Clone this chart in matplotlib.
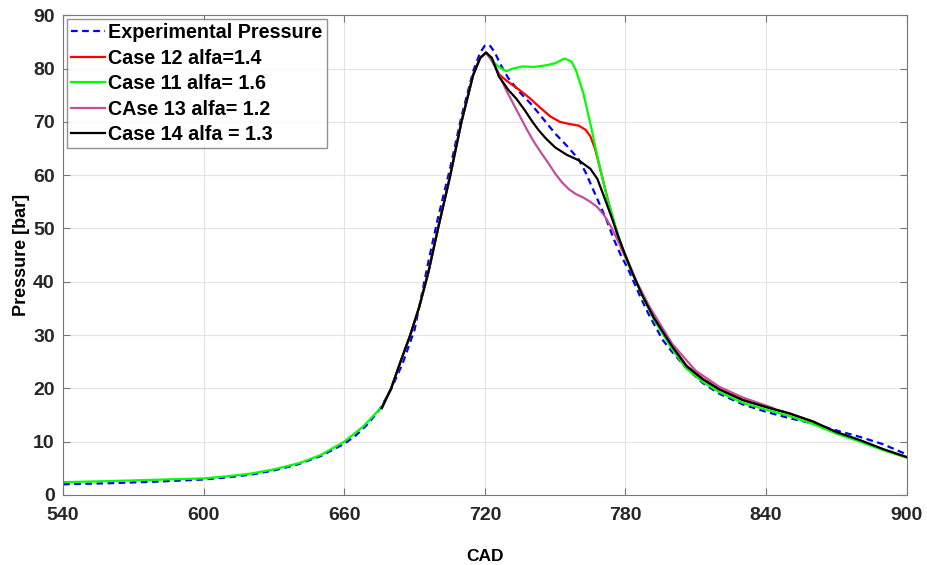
import matplotlib.pyplot as plt

plt.rcParams['font.family'] = ['Liberation Sans', 'DejaVu Sans']
plt.rcParams['font.weight'] = 'bold'

# Experimental Pressure
cad_exp = [540, 560, 580, 600, 610, 620, 630, 640, 650, 660, 665, 670, 675, 680, 685, 690,
           696, 700, 705, 710, 715, 718, 720, 722, 724, 727, 730, 735, 740, 745, 750, 755,
           760, 763, 766, 769, 772, 775, 778, 781, 786, 790, 796, 800, 806, 813, 820, 830,
           840, 850, 860, 870, 880, 890, 900]
p_exp = [2.0, 2.2, 2.5, 2.9, 3.3, 3.8, 4.6, 5.7, 7.3, 9.6, 11.2, 13.3, 16.0, 19.8, 24.8, 31.0,
         44.0, 52.0, 61.0, 71.0, 79.5, 83.0, 84.3, 84.4, 83.2, 80.5, 78.2, 75.5, 73.2, 70.5, 67.8, 65.5,
         63.0, 60.5, 57.5, 54.5, 51.5, 48.0, 45.0, 42.5, 37.5, 33.8, 29.0, 26.8, 23.8, 21.0, 19.0, 17.0,
         15.6, 14.4, 13.4, 12.1, 10.9, 9.5, 7.6]

# Case 12 alfa=1.4
cad_c12 = [676, 680, 684, 688, 692, 696, 700, 705, 710, 715, 718, 720.5, 723, 726, 729, 735,
           739, 744, 748, 752, 756, 760, 763, 765, 767, 769, 771, 773, 775.5, 778, 781, 787, 792, 800,
           806, 813, 820, 830, 840, 850, 860, 870, 880, 890, 900]
p_c12 = [16.3, 20.0, 25.0, 29.8, 35.3, 42.0, 50.0, 59.5, 70.0, 78.8, 82.0, 83.0, 81.5, 79.0, 77.8, 75.9,
         74.5, 72.5, 71.0, 70.0, 69.6, 69.3, 68.5, 67.3, 65.0, 61.5, 58.0, 54.5, 50.5, 46.5, 43.6, 37.7, 33.4, 27.9,
         24.3, 21.8, 19.9, 17.9, 16.5, 15.3, 13.7, 11.7, 10.2, 8.5, 7.1]

# Case 11 alfa= 1.6
cad_c11 = [540, 560, 580, 600, 610, 620, 630, 641, 650, 660, 668, 676, 680, 684, 688, 692,
           696, 700, 705, 710, 715, 718, 720.5, 723, 726, 729, 732, 736, 741, 746, 750, 754,
           757, 759, 762, 765, 768, 772, 775, 777.6, 781, 787.5, 792, 800, 806, 813, 820, 830,
           840, 850, 860, 870, 880, 890, 900]
p_c11 = [2.4, 2.6, 2.85, 3.1, 3.5, 4.0, 4.8, 6.0, 7.5, 10.0, 12.8, 16.5, 20.0, 25.0, 29.8, 35.3,
         42.0, 50.0, 59.5, 70.0, 78.8, 82.0, 83.0, 81.5, 80.3, 79.5, 80.0, 80.4, 80.3, 80.6, 81.0, 81.9,
         81.3, 79.5, 75.4, 69.7, 63.5, 56.0, 51.5, 47.8, 43.5, 37.1, 33.0, 27.3, 23.7, 21.2, 19.3, 17.3,
         16.0, 14.8, 13.3, 11.5, 10.0, 8.4, 7.0]

# CAse 13 alfa= 1.2
cad_c13 = [676, 680, 684, 688, 692, 696, 700, 705, 710, 715, 718, 720.5, 723, 726, 729, 732,
           735, 738, 741, 744, 747, 750, 753, 756, 759, 762, 765, 768, 771, 774, 777, 780, 785, 790,
           800, 810, 820, 830, 843]
p_c13 = [16.3, 20.0, 25.0, 29.8, 35.3, 42.0, 50.0, 59.5, 70.0, 78.8, 82.0, 83.0, 81.5, 79.0, 76.0, 73.5,
         71.0, 68.5, 66.2, 64.2, 62.3, 60.3, 58.6, 57.3, 56.4, 55.8, 55.0, 54.0, 52.4, 50.2, 47.5, 45.0, 39.8, 35.5,
         28.3, 23.3, 20.3, 18.3, 16.3]

# Case 14 alfa = 1.3
cad_c14 = [676, 680, 684, 688, 692, 696, 700, 705, 710, 715, 718, 720.5, 723, 726, 730, 733.5,
           737, 740, 743, 746, 750, 755, 760, 765, 768, 771, 774, 777, 780, 783, 787, 792,
           800, 806, 813, 820, 830, 840, 850, 860, 870, 880, 890, 900]
p_c14 = [16.3, 20.0, 25.0, 29.8, 35.3, 42.0, 50.0, 59.5, 70.0, 78.8, 82.0, 83.0, 82.0, 78.5, 76.0, 74.3,
         72.2, 70.2, 68.4, 66.9, 65.2, 63.8, 62.8, 61.2, 59.3, 55.8, 52.2, 48.4, 44.9, 41.6, 37.6, 33.3,
         27.8, 24.2, 21.7, 19.8, 17.8, 16.5, 15.3, 13.8, 11.8, 10.3, 8.6, 7.1]

fig = plt.figure(figsize=(9.28, 5.65), dpi=100)
ax = fig.add_axes([0.068, 0.124, 0.909, 0.849])

ax.plot(cad_exp, p_exp, '--', color='#0000ff', lw=1.6, dashes=(3, 2), label='Experimental Pressure')
ax.plot(cad_c12, p_c12, color='#ff0000', lw=1.6, label='Case 12 alfa=1.4')
ax.plot(cad_c11, p_c11, color='#00ff00', lw=1.6, label='Case 11 alfa= 1.6')
ax.plot(cad_c13, p_c13, color='#c24f9e', lw=1.6, label='CAse 13 alfa= 1.2')
ax.plot(cad_c14, p_c14, color='black', lw=1.6, label='Case 14 alfa = 1.3')

ax.set_xlim(540, 900)
ax.set_ylim(0, 90)
ax.set_xticks(range(540, 901, 60))
ax.set_yticks(range(0, 91, 10))
ax.grid(True, color='#e3e3e3', lw=0.8)
ax.set_axisbelow(True)
for s in ax.spines.values():
    s.set_color('#777777')
ax.tick_params(direction='in', top=True, right=True, length=5, color='#777777',
               labelsize=14, labelcolor='#262626')
ax.tick_params(axis='x', pad=9)
ax.tick_params(axis='y', pad=6)
for lab in ax.get_xticklabels() + ax.get_yticklabels():
    lab.set_fontweight('bold')

ax.set_xlabel('CAD', fontsize=12.5, fontweight='bold', labelpad=18)
ax.set_ylabel('Pressure [bar]', fontsize=13, fontweight='bold', labelpad=2)

leg = ax.legend(loc='upper left', fontsize=14.2, frameon=True, fancybox=False,
                borderaxespad=0.2, handlelength=1.7, handletextpad=0.2,
                borderpad=0.2, labelspacing=0.33)
leg.get_frame().set_edgecolor('#777777')
leg.get_frame().set_linewidth(1.0)

plt.savefig('out.png', dpi=100)
